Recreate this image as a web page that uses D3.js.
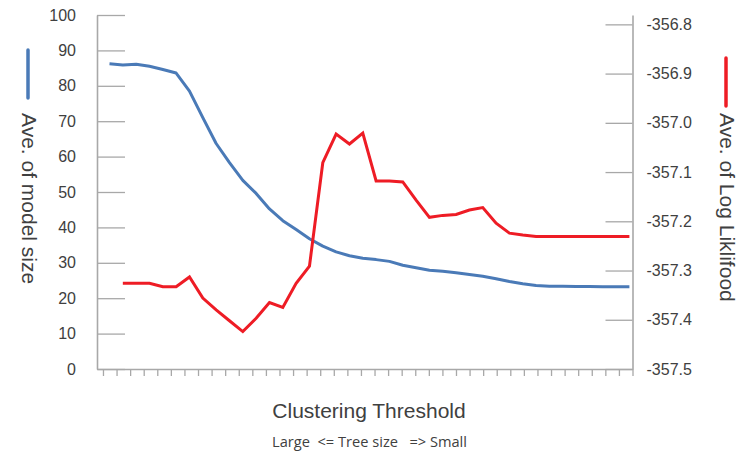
<!DOCTYPE html>
<html>
<head>
<meta charset="utf-8">
<script src="https://cdn.jsdelivr.net/npm/d3@7"></script>
<style>
  html, body { margin: 0; padding: 0; background: #ffffff; }
  svg { display: block; }
  text { font-family: "Liberation Sans", Arial, sans-serif; fill: #404040; }
</style>
</head>
<body>
<svg id="chart" width="746" height="453"></svg>
<script>
// ---- data ----
const thresholdIndex = d3.range(40);   // clustering-threshold steps (Large -> Small)
const modelSize = [86.2, 85.9, 86.1, 85.5, 84.6, 83.6, 78.5, 71.0, 63.7, 58.3,
                   53.3, 49.6, 45.2, 41.9, 39.4, 36.8, 34.7, 33.1, 32.0, 31.3,
                   30.9, 30.4, 29.3, 28.6, 27.9, 27.6, 27.2, 26.7, 26.2, 25.5,
                   24.7, 24.1, 23.6, 23.4, 23.4, 23.3, 23.3, 23.2, 23.2, 23.2];
const logLik = [null, -357.326, -357.326, -357.326, -357.333, -357.333, -357.313, -357.356, -357.380, -357.402,
                -357.424, -357.397, -357.365, -357.375, -357.326, -357.291, -357.081, -357.023, -357.043, -357.021,
                -357.118, -357.118, -357.120, -357.157, -357.192, -357.188, -357.186, -357.177, -357.172, -357.204,
                -357.224, -357.228, -357.231, -357.231, -357.231, -357.231, -357.231, -357.231, -357.231, -357.231];
const leftTicks = [0, 10, 20, 30, 40, 50, 60, 70, 80, 90, 100];
const rightTicks = [-357.5, -357.4, -357.3, -357.2, -357.1, -357.0, -356.9, -356.8];
const xMinorTicks = d3.range(40);
const leftLabel = "Ave. of model size";
const rightLabel = "Ave. of Log Liklifood";
const xTitle = "Clustering Threshold";
const xSubtitle = "Large  <= Tree size   => Small";

(function () {
// ---- layout ----
const svg = d3.select("#chart");
const pLeft = 97, pRight = 632.5, pTop = 15, pBottom = 369;
const axisColor = "#a8a8a8";
const blue = "#4a7ab7", red = "#ee1c25";

const yL = d3.scaleLinear().domain([0, 100]).range([pBottom, pTop]);
const yR = d3.scaleLinear().domain([-357.5, -356.781]).range([pBottom, pTop]);
const x = d3.scaleLinear().domain([0, 39]).range([109.5, 629.4]);
const xTick = d3.scaleLinear().domain([-0.44, 39]).range([pLeft, pRight]);

// left axis
const gL = svg.append("g").attr("transform", `translate(${pLeft},0)`)
  .call(d3.axisLeft(yL).tickValues(leftTicks).tickSize(-28).tickSizeOuter(0).tickPadding(21).tickFormat(d3.format("d")));
// right axis
const gR = svg.append("g").attr("transform", `translate(${pRight},0)`)
  .call(d3.axisRight(yR).tickValues(rightTicks).tickSize(-27).tickSizeOuter(0).tickPadding(14).tickFormat(d => d.toFixed(1)));
// bottom axis
const gB = svg.append("g").attr("transform", `translate(0,${pBottom})`)
  .call(d3.axisBottom(xTick).tickValues(xMinorTicks).tickSize(7).tickSizeOuter(0).tickFormat(""));

[gL, gR, gB].forEach(g => {
  g.select(".domain").attr("stroke", axisColor).attr("stroke-width", 1.6);
  g.selectAll(".tick line").attr("stroke", axisColor).attr("stroke-width", 1.3);
  g.selectAll(".tick text").attr("fill", "#404040").style("font-size", "16px")
    .style("font-family", "'Liberation Sans', Arial, sans-serif");
});

// lines
const blueLine = d3.line().x((d, i) => x(thresholdIndex[i])).y(d => yL(d));
svg.append("path").datum(modelSize)
  .attr("d", blueLine).attr("fill", "none").attr("stroke", blue)
  .attr("stroke-width", 3).attr("stroke-linejoin", "round");

const redLine = d3.line().defined(d => d !== null).x((d, i) => x(thresholdIndex[i])).y(d => yR(d));
svg.append("path").datum(logLik)
  .attr("d", redLine).attr("fill", "none").attr("stroke", red)
  .attr("stroke-width", 3).attr("stroke-linejoin", "miter");

// legends (vertical)
svg.append("line").attr("x1", 28).attr("x2", 28).attr("y1", 50).attr("y2", 98)
  .attr("stroke", blue).attr("stroke-width", 3.5).attr("stroke-linecap", "round");
svg.append("text").attr("transform", "translate(29.5,113) rotate(90)")
  .attr("dominant-baseline", "central").style("font-size", "21px").attr("fill", "#333")
  .text(leftLabel);

svg.append("line").attr("x1", 726).attr("x2", 726).attr("y1", 58).attr("y2", 106)
  .attr("stroke", red).attr("stroke-width", 3.5).attr("stroke-linecap", "round");
svg.append("text").attr("transform", "translate(727.5,113) rotate(90)")
  .attr("dominant-baseline", "central").style("font-size", "21px").attr("fill", "#333")
  .text(rightLabel);

// x titles
svg.append("text").attr("x", 369).attr("y", 418).attr("text-anchor", "middle")
  .style("font-size", "21px").attr("fill", "#333").text(xTitle);
svg.append("text").attr("x", 272).attr("y", 447)
  .attr("textLength", 195).attr("lengthAdjust", "spacingAndGlyphs")
  .style("font-size", "14.5px").style("font-family", "'Open Sans', 'Noto Sans', sans-serif")
  .style("white-space", "pre").attr("xml:space", "preserve").attr("fill", "#333")
  .text(xSubtitle);
})();
</script>
</body>
</html>
